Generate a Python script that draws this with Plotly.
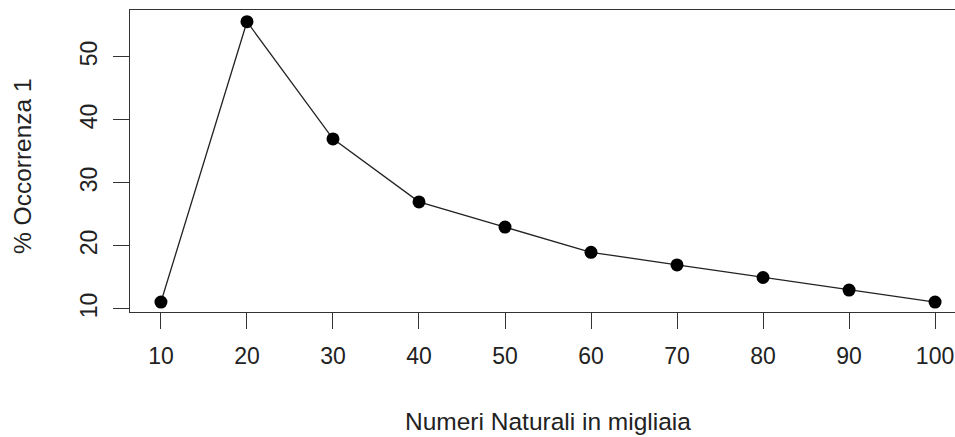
import plotly.graph_objects as go

x_vals = [10, 20, 30, 40, 50, 60, 70, 80, 90, 100]
y_vals = [11.1, 55.6, 37.0, 27.0, 23.0, 19.0, 17.0, 15.0, 13.0, 11.1]
x_ticks = [10, 20, 30, 40, 50, 60, 70, 80, 90, 100]
y_ticks = [10, 20, 30, 40, 50]
x_title = "Numeri Naturali in migliaia"
y_title = "% Occorrenza 1"

W, H = 955, 437
ml, mr, mt, mb = 130, 0, 10, 125
pw = W - ml - mr
ph = H - mt - mb

font_family = "Liberation Sans, Arial, sans-serif"

fig = go.Figure()
fig.add_trace(go.Scatter(
    x=x_vals, y=y_vals, mode="lines+markers",
    line=dict(color="#222222", width=1.3),
    marker=dict(color="black", size=13),
    cliponaxis=False,
))

fig.update_layout(
    width=W, height=H,
    margin=dict(l=ml, r=mr, t=mt, b=mb, pad=0),
    paper_bgcolor="white", plot_bgcolor="white",
    showlegend=False,
    font=dict(family=font_family, color="#222222", size=23),
    xaxis=dict(
        range=[6.4, 102.32], tickvals=x_ticks, ticktext=[str(v) for v in x_ticks],
        ticks="outside", ticklen=16, tickwidth=1, tickcolor="#333333",
        showline=True, linecolor="#333333", linewidth=1, mirror=True,
        showgrid=False, zeroline=False,
        tickfont=dict(size=23, color="#222222"),
        ticklabelstandoff=7,
    ),
    yaxis=dict(
        range=[9.52, 57.46], tickvals=y_ticks, ticktext=[str(v) for v in y_ticks],
        ticks="outside", ticklen=16, tickwidth=1, tickcolor="#333333",
        showline=True, linecolor="#333333", linewidth=1, mirror=False,
        showgrid=False, zeroline=False, tickangle=-90,
        tickfont=dict(size=23, color="#222222"),
        ticklabelstandoff=7,
    ),
    annotations=[
        dict(text=x_title, xref="paper", yref="paper",
             x=(548 - ml) / pw, y=(H - mb - 422) / ph,
             xanchor="center", yanchor="middle", showarrow=False,
             font=dict(size=24.5, color="#222222", family=font_family)),
        dict(text=y_title, xref="paper", yref="paper",
             x=(22 - ml) / pw, y=(H - mb - 166) / ph,
             xanchor="center", yanchor="middle", textangle=-90, showarrow=False,
             font=dict(size=24.5, color="#222222", family=font_family)),
    ],
)

fig.write_html("out.html")
